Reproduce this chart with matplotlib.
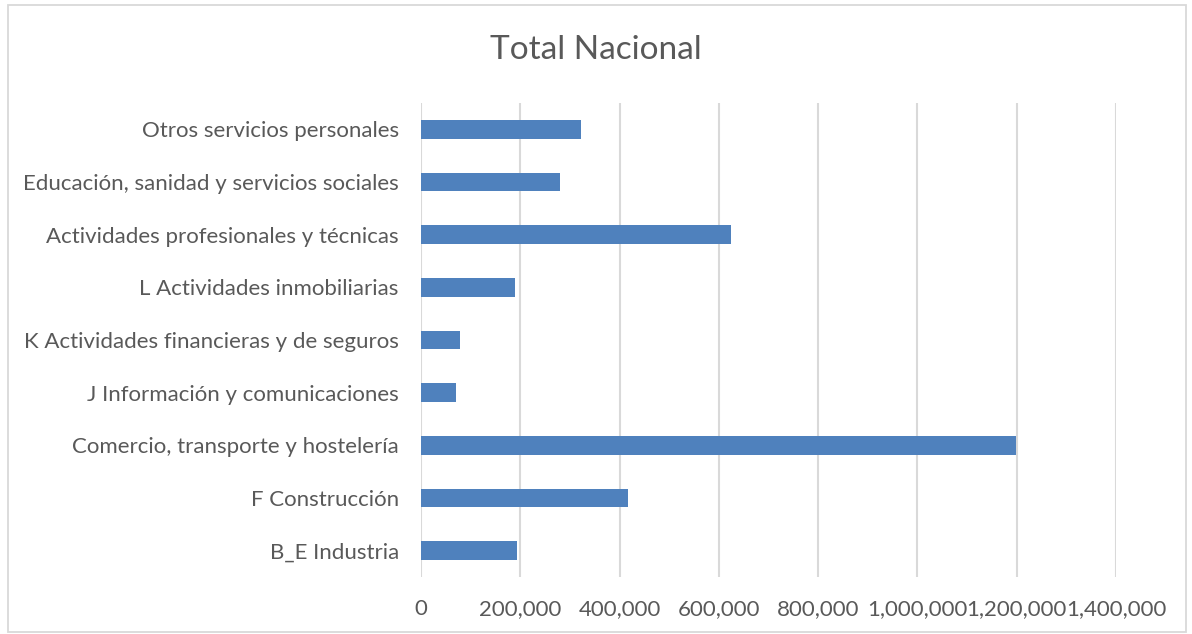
import numpy as np
import matplotlib.pyplot as plt
import matplotlib.ticker as ticker
from matplotlib.patches import Rectangle

categories = ['B_E Industria', 'F Construcción', 'Comercio, transporte y hostelería',
              'J Información y comunicaciones', 'K Actividades financieras y de seguros',
              'L Actividades inmobiliarias', 'Actividades profesionales y técnicas',
              'Educación, sanidad y servicios sociales', 'Otros servicios personales']
values = [193000, 417500, 1199000, 70000, 78500, 188500, 623500, 279500, 321500]
x_ticks = [0, 200000, 400000, 600000, 800000, 1000000, 1200000, 1400000]

text_color = '#595959'
plt.rcParams['font.family'] = ['Lato', 'DejaVu Sans']

fig = plt.figure(figsize=(11.92, 6.34), dpi=100)
ax = fig.add_axes([421/1192, 1-577/634, (1116-421)/1192, (577-103)/634])

y = np.arange(len(categories))
ax.barh(y, values, height=0.35, color='#4f81bd', zorder=3)

ax.set_xlim(0, 1400000)
ax.set_ylim(-0.5, len(categories)-0.5)
ax.set_xticks(x_ticks)
ax.xaxis.set_major_formatter(ticker.FuncFormatter(lambda v, p: '{:,.0f}'.format(v)))
ax.set_yticks(y)
ax.set_yticklabels(categories)
ax.tick_params(axis='both', length=0, labelsize=16, colors=text_color)
ax.tick_params(axis='x', pad=16)
ax.tick_params(axis='y', pad=16)
ax.grid(axis='x', color='#d9d9d9', linewidth=1.5, zorder=0)
for s in ax.spines.values():
    s.set_visible(False)

fig.text(0.5, 1-50/634, 'Total Nacional', ha='center', va='center', fontsize=24, color=text_color)
fig.patches.append(Rectangle((8/1192, 1-632/634), 1178/1192, 627/634, transform=fig.transFigure,
                             fill=False, edgecolor='#d9d9d9', linewidth=1.3))

plt.savefig('out.png', dpi=100)
